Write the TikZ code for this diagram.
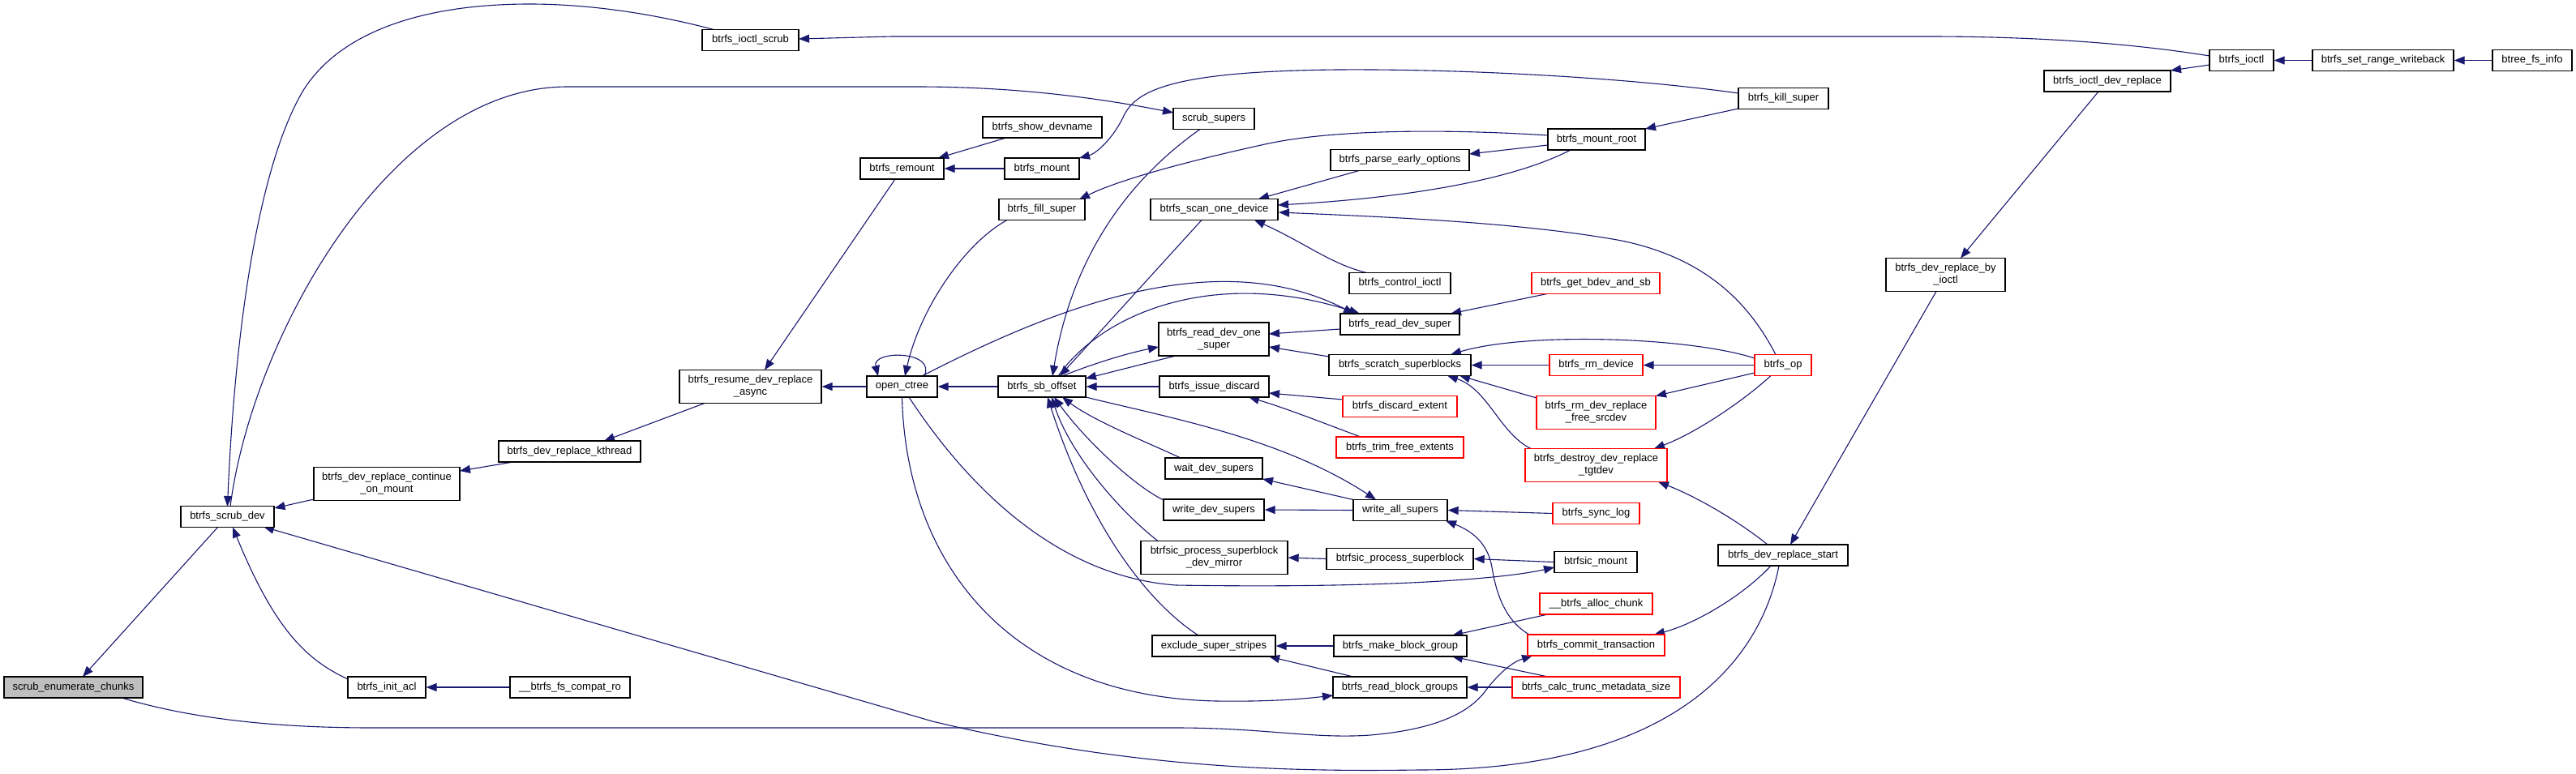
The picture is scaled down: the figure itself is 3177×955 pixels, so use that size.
\documentclass[tikz,border=0pt]{standalone}
\usepackage{fontspec}
\setmainfont{Liberation Sans}
\usetikzlibrary{arrows.meta,calc}
\pgfdeclarelayer{bg}
\pgfsetlayers{bg,main}
\definecolor{edgecol}{RGB}{25,25,112}
\definecolor{redcol}{RGB}{255,0,0}
\definecolor{grayfill}{RGB}{191,191,191}
\begin{document}
\begin{tikzpicture}[x=1pt,y=-1pt,
  box/.style={draw=black,line width=1.3pt,fill=white,inner sep=0pt,font=\fontsize{13}{15}\selectfont,align=center,minimum height=26pt},
  tall/.style={minimum height=41pt},
  redbox/.style={box,draw=redcol},
  conn/.style={draw=edgecol,line width=1.1pt,-{Triangle[length=13pt,width=10pt]}}]
\useasboundingbox (0,0) rectangle (3177,955);
% nodes
\node[box,fill=grayfill,minimum width=171pt] (sec) at (90.5,848) {scrub\_enumerate\_chunks};
\node[box,minimum width=115pt] (scrubdev) at (280.5,637.5) {btrfs\_scrub\_dev};
\node[box,tall,minimum width=180pt] (contmount) at (477,597) {btrfs\_dev\_replace\_continue\\\_on\_mount};
\node[box,minimum width=175pt] (kthread) at (702.5,557) {btrfs\_dev\_replace\_kthread};
\node[box,minimum width=96pt] (initacl) at (477,848) {btrfs\_init\_acl};
\node[box,minimum width=148pt] (compatro) at (703,848) {\_\_btrfs\_fs\_compat\_ro};
\node[box,minimum width=119pt] (ioctlscrub) at (925.5,49.5) {btrfs\_ioctl\_scrub};
\node[box,minimum width=100pt] (scrubsupers) at (1497,146.5) {scrub\_supers};
\node[box,minimum width=147pt] (showdev) at (1285.5,157) {btrfs\_show\_devname};
\node[box,minimum width=103pt] (remount) at (1112.5,208) {btrfs\_remount};
\node[box,minimum width=92pt] (mount) at (1285,208) {btrfs\_mount};
\node[box,minimum width=106pt] (fillsuper) at (1285,258.5) {btrfs\_fill\_super};
\node[box,minimum width=157pt] (scanone) at (1497.5,258.5) {btrfs\_scan\_one\_device};
\node[box,tall,minimum width=175pt] (resume) at (925.5,477) {btrfs\_resume\_dev\_replace\\\_async};
\node[box,minimum width=87pt] (openctree) at (1112.5,477) {open\_ctree};
\node[box,minimum width=108pt] (sboffset) at (1285,477) {btrfs\_sb\_offset};
\node[box,tall,minimum width=136pt] (readone) at (1497,418.5) {btrfs\_read\_dev\_one\\\_super};
\node[box,minimum width=135pt] (issuediscard) at (1497.5,477) {btrfs\_issue\_discard};
\node[box,minimum width=120pt] (waitdev) at (1497,578) {wait\_dev\_supers};
\node[box,minimum width=124pt] (writedev) at (1497,629) {write\_dev\_supers};
\node[box,tall,minimum width=181pt] (devmirror) at (1497.5,688) {btrfsic\_process\_superblock\\\_dev\_mirror};
\node[box,minimum width=152pt] (exclude) at (1497,797) {exclude\_super\_stripes};
\node[box,minimum width=171pt] (parseearly) at (1726.5,197.5) {btrfs\_parse\_early\_options};
\node[box,minimum width=125pt] (controlioctl) at (1726.5,349.5) {btrfs\_control\_ioctl};
\node[box,minimum width=147pt] (readdevsuper) at (1726.5,400) {btrfs\_read\_dev\_super};
\node[box,minimum width=175pt] (scratch) at (1726.5,450.5) {btrfs\_scratch\_superblocks};
\node[redbox,minimum width=141pt] (discardext) at (1726.5,501.5) {btrfs\_discard\_extent};
\node[redbox,minimum width=157pt] (trimfree) at (1726.5,552) {btrfs\_trim\_free\_extents};
\node[box,minimum width=116pt] (writeall) at (1727,629.5) {write\_all\_supers};
\node[box,minimum width=181pt] (btrfsicproc) at (1726.5,689.5) {btrfsic\_process\_superblock};
\node[box,minimum width=164pt] (makebg) at (1727,797) {btrfs\_make\_block\_group};
\node[box,minimum width=165pt] (readbg) at (1726.5,848) {btrfs\_read\_block\_groups};
\node[box,minimum width=111pt] (killsuper) at (2199.5,121.5) {btrfs\_kill\_super};
\node[box,minimum width=120pt] (mountroot) at (1969,172) {btrfs\_mount\_root};
\node[redbox,minimum width=158pt] (getbdev) at (1968,349.5) {btrfs\_get\_bdev\_and\_sb};
\node[redbox,minimum width=115pt] (rmdevice) at (1968.5,450.5) {btrfs\_rm\_device};
\node[redbox,minimum width=70pt] (op) at (2199,450.5) {btrfs\_op};
\node[box,tall,minimum width=147pt] (byioctl) at (2399.5,339) {btrfs\_dev\_replace\_by\\\_ioctl};
\node[redbox,tall,minimum width=147pt] (freesrc) at (1968.5,509) {btrfs\_rm\_dev\_replace\\\_free\_srcdev};
\node[redbox,tall,minimum width=175pt] (tgtdev) at (1968.5,574) {btrfs\_destroy\_dev\_replace\\\_tgtdev};
\node[redbox,minimum width=107pt] (synclog) at (1968.5,633.5) {btrfs\_sync\_log};
\node[box,minimum width=102pt] (btrfsicmount) at (1968,693.5) {btrfsic\_mount};
\node[redbox,minimum width=139pt] (allocchunk) at (1968.5,745) {\_\_btrfs\_alloc\_chunk};
\node[redbox,minimum width=169pt] (commit) at (1968.5,796) {btrfs\_commit\_transaction};
\node[redbox,minimum width=207pt] (calctrunc) at (1968.5,848) {btrfs\_calc\_trunc\_metadata\_size};
\node[box,minimum width=160pt] (devreplstart) at (2199,685) {btrfs\_dev\_replace\_start};
\node[box,minimum width=79pt] (ioctl) at (2764.5,74.5) {btrfs\_ioctl};
\node[box,minimum width=156pt] (ioctldevrepl) at (2599,100) {btrfs\_ioctl\_dev\_replace};
\node[box,minimum width=174pt] (setrange) at (2939,74.5) {btrfs\_set\_range\_writeback};
\node[box,minimum width=98pt] (btreefs) at (3123,74.5) {btree\_fs\_info};
% edges
\begin{pgfonlayer}{bg}
\fill[white] (0,0) rectangle (3177,955);
\draw[conn] ($(scrubdev.center)+(-11.5,12.5)$) -- ($(sec.center)+(11.5,-13)$);
\draw[conn] ($(sec.center)+(59.5,13)$) .. controls (230,885) and (330,898) .. (459,898) -- (1450,898) .. controls (1560,898) and (1620,912) .. (1690,907) .. controls (1770,900) and (1810,880) .. (1830,855) .. controls (1845,835) and (1862,818) .. ($(commit.center)+(-78.5,13)$);
\draw[conn] ($(ioctlscrub.center)+(-43.5,-12.5)$) .. controls (800,15) and (720,5) .. (653,5) .. controls (520,5) and (420,40) .. (375,110) .. controls (320,200) and (290,400) .. ($(scrubdev.center)+(0,-12.5)$);
\draw[conn] ($(scrubdev.center)+(3.5,-12.5)$) .. controls (310,420) and (480,107) .. (700,107) -- (1130,107) .. controls (1250,107) and (1350,120) .. ($(scrubsupers.center)+(-50,-7.5)$);
\draw[conn] ($(ioctl.center)+(-39.5,-5.5)$) .. controls (2620,52) and (2500,45) .. (2377,45) -- (1100,45) -- ($(ioctlscrub.center)+(59.5,-1.5)$);
\draw[conn] ($(ioctl.center)+(-39.5,5.5)$) -- ($(ioctldevrepl.center)+(78,-13)$);
\draw[conn] (setrange.west) -- (ioctl.east);
\draw[conn] (btreefs.west) -- (setrange.east);
\draw[conn] ($(ioctldevrepl.center)+(-11,13)$) -- ($(byioctl.center)+(18.5,-20.5)$);
\draw[conn] ($(byioctl.center)+(-11.5,20.5)$) -- ($(devreplstart.center)+(9,-13)$);
\draw[conn] ($(devreplstart.center)+(-19,-13)$) .. controls (2140,640) and (2090,612) .. ($(tgtdev.center)+(76.5,20.5)$);
\draw[conn] ($(op.center)+(-15,13)$) .. controls (2150,495) and (2090,535) .. ($(tgtdev.center)+(71.5,-20.5)$);
\draw[conn] ($(op.center)+(-35,9.5)$) -- ($(freesrc.center)+(73.5,-20.5)$);
\draw[conn] (op.west) -- (rmdevice.east);
\draw[conn] ($(op.center)+(-35,-8.5)$) .. controls (2080,415) and (1880,410) .. ($(scratch.center)+(62.5,-13)$);
\draw[conn] (rmdevice.west) -- (scratch.east);
\draw[conn] ($(freesrc.center)+(-73.5,-18)$) -- ($(scratch.center)+(73.5,13)$);
\draw[conn] ($(tgtdev.center)+(-80.5,-20.5)$) .. controls (1850,535) and (1835,480) .. ($(scratch.center)+(58.5,13)$);
\draw[conn] ($(scratch.center)+(-87.5,-10.5)$) -- ($(readone.center)+(68,9.5)$);
\draw[conn] ($(readdevsuper.center)+(-73.5,6)$) -- ($(readone.center)+(68,-6.5)$);
\draw[conn] ($(getbdev.center)+(-60,13)$) -- ($(readdevsuper.center)+(62.5,-13)$);
\draw[conn] ($(openctree.center)+(24.5,-13)$) .. controls (1300,380) and (1500,300) .. ($(readdevsuper.center)+(-56.5,-13)$);
\draw[conn] ($(sboffset.center)+(20,-13)$) .. controls (1360,385) and (1500,330) .. ($(readdevsuper.center)+(-49.5,-13)$);
\draw[conn] (sboffset.west) -- (openctree.east);
\draw[conn] (openctree.west) -- (resume.east);
\draw[conn] (issuediscard.west) -- (sboffset.east);
\draw[conn] ($(sboffset.center)+(25,-13)$) .. controls (1350,448) and (1390,436) .. ($(readone.center)+(-68,9.5)$);
\draw[conn] ($(readone.center)+(-47,20.5)$) -- ($(sboffset.center)+(54,-10)$);
\draw[conn] ($(scrubsupers.center)+(-17,13)$) .. controls (1380,230) and (1320,330) .. ($(sboffset.center)+(13,-13)$);
\draw[conn] ($(scanone.center)+(-15.5,13)$) -- ($(sboffset.center)+(22,-13)$);
\draw[conn] ($(fillsuper.center)+(-43,13)$) .. controls (1190,300) and (1135,380) .. ($(openctree.center)+(3.5,-13)$);
\draw[conn] ($(openctree.center)+(27.5,-13)$) .. controls (1155,432) and (1075,432) .. ($(openctree.center)+(-29.5,-13)$);
\draw[conn] ($(remount.center)+(-8.5,13)$) -- ($(resume.center)+(17.5,-20.5)$);
\draw[conn] ($(showdev.center)+(-44.5,13)$) -- ($(remount.center)+(44.5,-13)$);
\draw[conn] (mount.west) -- (remount.east);
\draw[conn] ($(killsuper.center)+(-55.5,-6.5)$) .. controls (2000,95) and (1800,85) .. (1650,86) .. controls (1450,88) and (1400,110) .. (1385,145) .. controls (1370,175) and (1350,190) .. ($(mount.center)+(46,-13)$);
\draw[conn] ($(killsuper.center)+(-55.5,12.5)$) -- ($(mountroot.center)+(60,-13)$);
\draw[conn] ($(mountroot.center)+(-60,7)$) -- ($(parseearly.center)+(85.5,-7.5)$);
\draw[conn] ($(mountroot.center)+(-32,13)$) .. controls (1860,225) and (1720,245) .. ($(scanone.center)+(78.5,-5.5)$);
\draw[conn] ($(mountroot.center)+(-60,-5)$) .. controls (1800,160) and (1650,158) .. (1560,178) .. controls (1460,200) and (1380,222) .. ($(fillsuper.center)+(46,-12.5)$);
\draw[conn] ($(parseearly.center)+(-48.5,12.5)$) -- ($(scanone.center)+(54.5,-13)$);
\draw[conn] ($(op.center)+(-9,-13)$) .. controls (2160,380) and (2110,320) .. (2000,297) .. controls (1880,275) and (1720,268) .. ($(scanone.center)+(79.5,3.5)$);
\draw[conn] ($(controlioctl.center)+(-41.5,-13)$) .. controls (1640,325) and (1610,300) .. ($(scanone.center)+(49.5,13)$);
\draw[conn] ($(discardext.center)+(-70.5,-8.5)$) -- ($(issuediscard.center)+(67.5,8)$);
\draw[conn] ($(trimfree.center)+(-48.5,-13)$) .. controls (1640,525) and (1590,505) .. ($(issuediscard.center)+(42.5,13)$);
\draw[conn] ($(writeall.center)+(-58,-13)$) -- ($(waitdev.center)+(60,13)$);
\draw[conn] (writeall.west) -- (writedev.east);
\draw[conn] (synclog.west) -- (writeall.east);
\draw[conn] ($(commit.center)+(-82.5,-13)$) .. controls (1855,765) and (1845,730) .. (1840,700) .. controls (1835,670) and (1815,655) .. ($(writeall.center)+(56,13)$);
\draw[conn] ($(sboffset.center)+(54,13)$) .. controls (1440,515) and (1580,540) .. ($(writeall.center)+(-30,-13)$);
\draw[conn] ($(waitdev.center)+(-41,-13)$) .. controls (1420,548) and (1350,520) .. ($(sboffset.center)+(25,13)$);
\draw[conn] ($(writedev.center)+(-62,-12)$) .. controls (1400,600) and (1340,545) .. ($(sboffset.center)+(15,13)$);
\draw[conn] ($(devmirror.center)+(-69.5,-20.5)$) .. controls (1380,630) and (1320,560) .. ($(sboffset.center)+(12,13)$);
\draw[conn] ($(exclude.center)+(-19,-13)$) .. controls (1410,740) and (1340,640) .. ($(sboffset.center)+(7,13)$);
\draw[conn] (openctree.south) .. controls (1118,700) and (1250,860) .. (1500,865) .. controls (1570,866) and (1610,862) .. ($(readbg.center)+(-82.5,10)$);
\draw[conn] ($(openctree.center)+(8.5,13)$) .. controls (1180,580) and (1290,710) .. (1450,722) .. controls (1700,726) and (1850,715) .. ($(btrfsicmount.center)+(-51,6.5)$);
\draw[conn] (btrfsicproc.west) -- (devmirror.east);
\draw[conn] (btrfsicmount.west) -- (btrfsicproc.east);
\draw[conn] (makebg.west) -- (exclude.east);
\draw[conn] ($(readbg.center)+(-57.5,-13)$) -- ($(exclude.center)+(68,13)$);
\draw[conn] ($(allocchunk.center)+(-59.5,13)$) -- ($(makebg.center)+(64,-13)$);
\draw[conn] ($(calctrunc.center)+(-59.5,-13)$) -- ($(makebg.center)+(64,13)$);
\draw[conn] (calctrunc.west) -- (readbg.east);
\draw[conn] ($(devreplstart.center)+(-15,13)$) .. controls (2150,735) and (2090,770) .. ($(commit.center)+(71.5,-13)$);
\draw[conn] ($(devreplstart.center)+(-5,13)$) .. controls (2170,820) and (2060,950) .. (1750,950) .. controls (1600,952) and (1400,950) .. (1150,890) -- ($(scrubdev.center)+(44.5,12.5)$);
\draw[conn] ($(kthread.center)+(-69.5,13)$) -- ($(contmount.center)+(90,-16)$);
\draw[conn] ($(resume.center)+(-56.5,20.5)$) -- ($(kthread.center)+(42.5,-13)$);
\draw[conn] ($(contmount.center)+(-90,19)$) -- ($(scrubdev.center)+(58,-10.5)$);
\draw[conn] (compatro.west) -- (initacl.east);
\draw[conn] ($(initacl.center)+(-48,-10)$) .. controls (380,815) and (340,780) .. ($(scrubdev.center)+(6.5,13)$);
\end{pgfonlayer}
\end{tikzpicture}
\end{document}
